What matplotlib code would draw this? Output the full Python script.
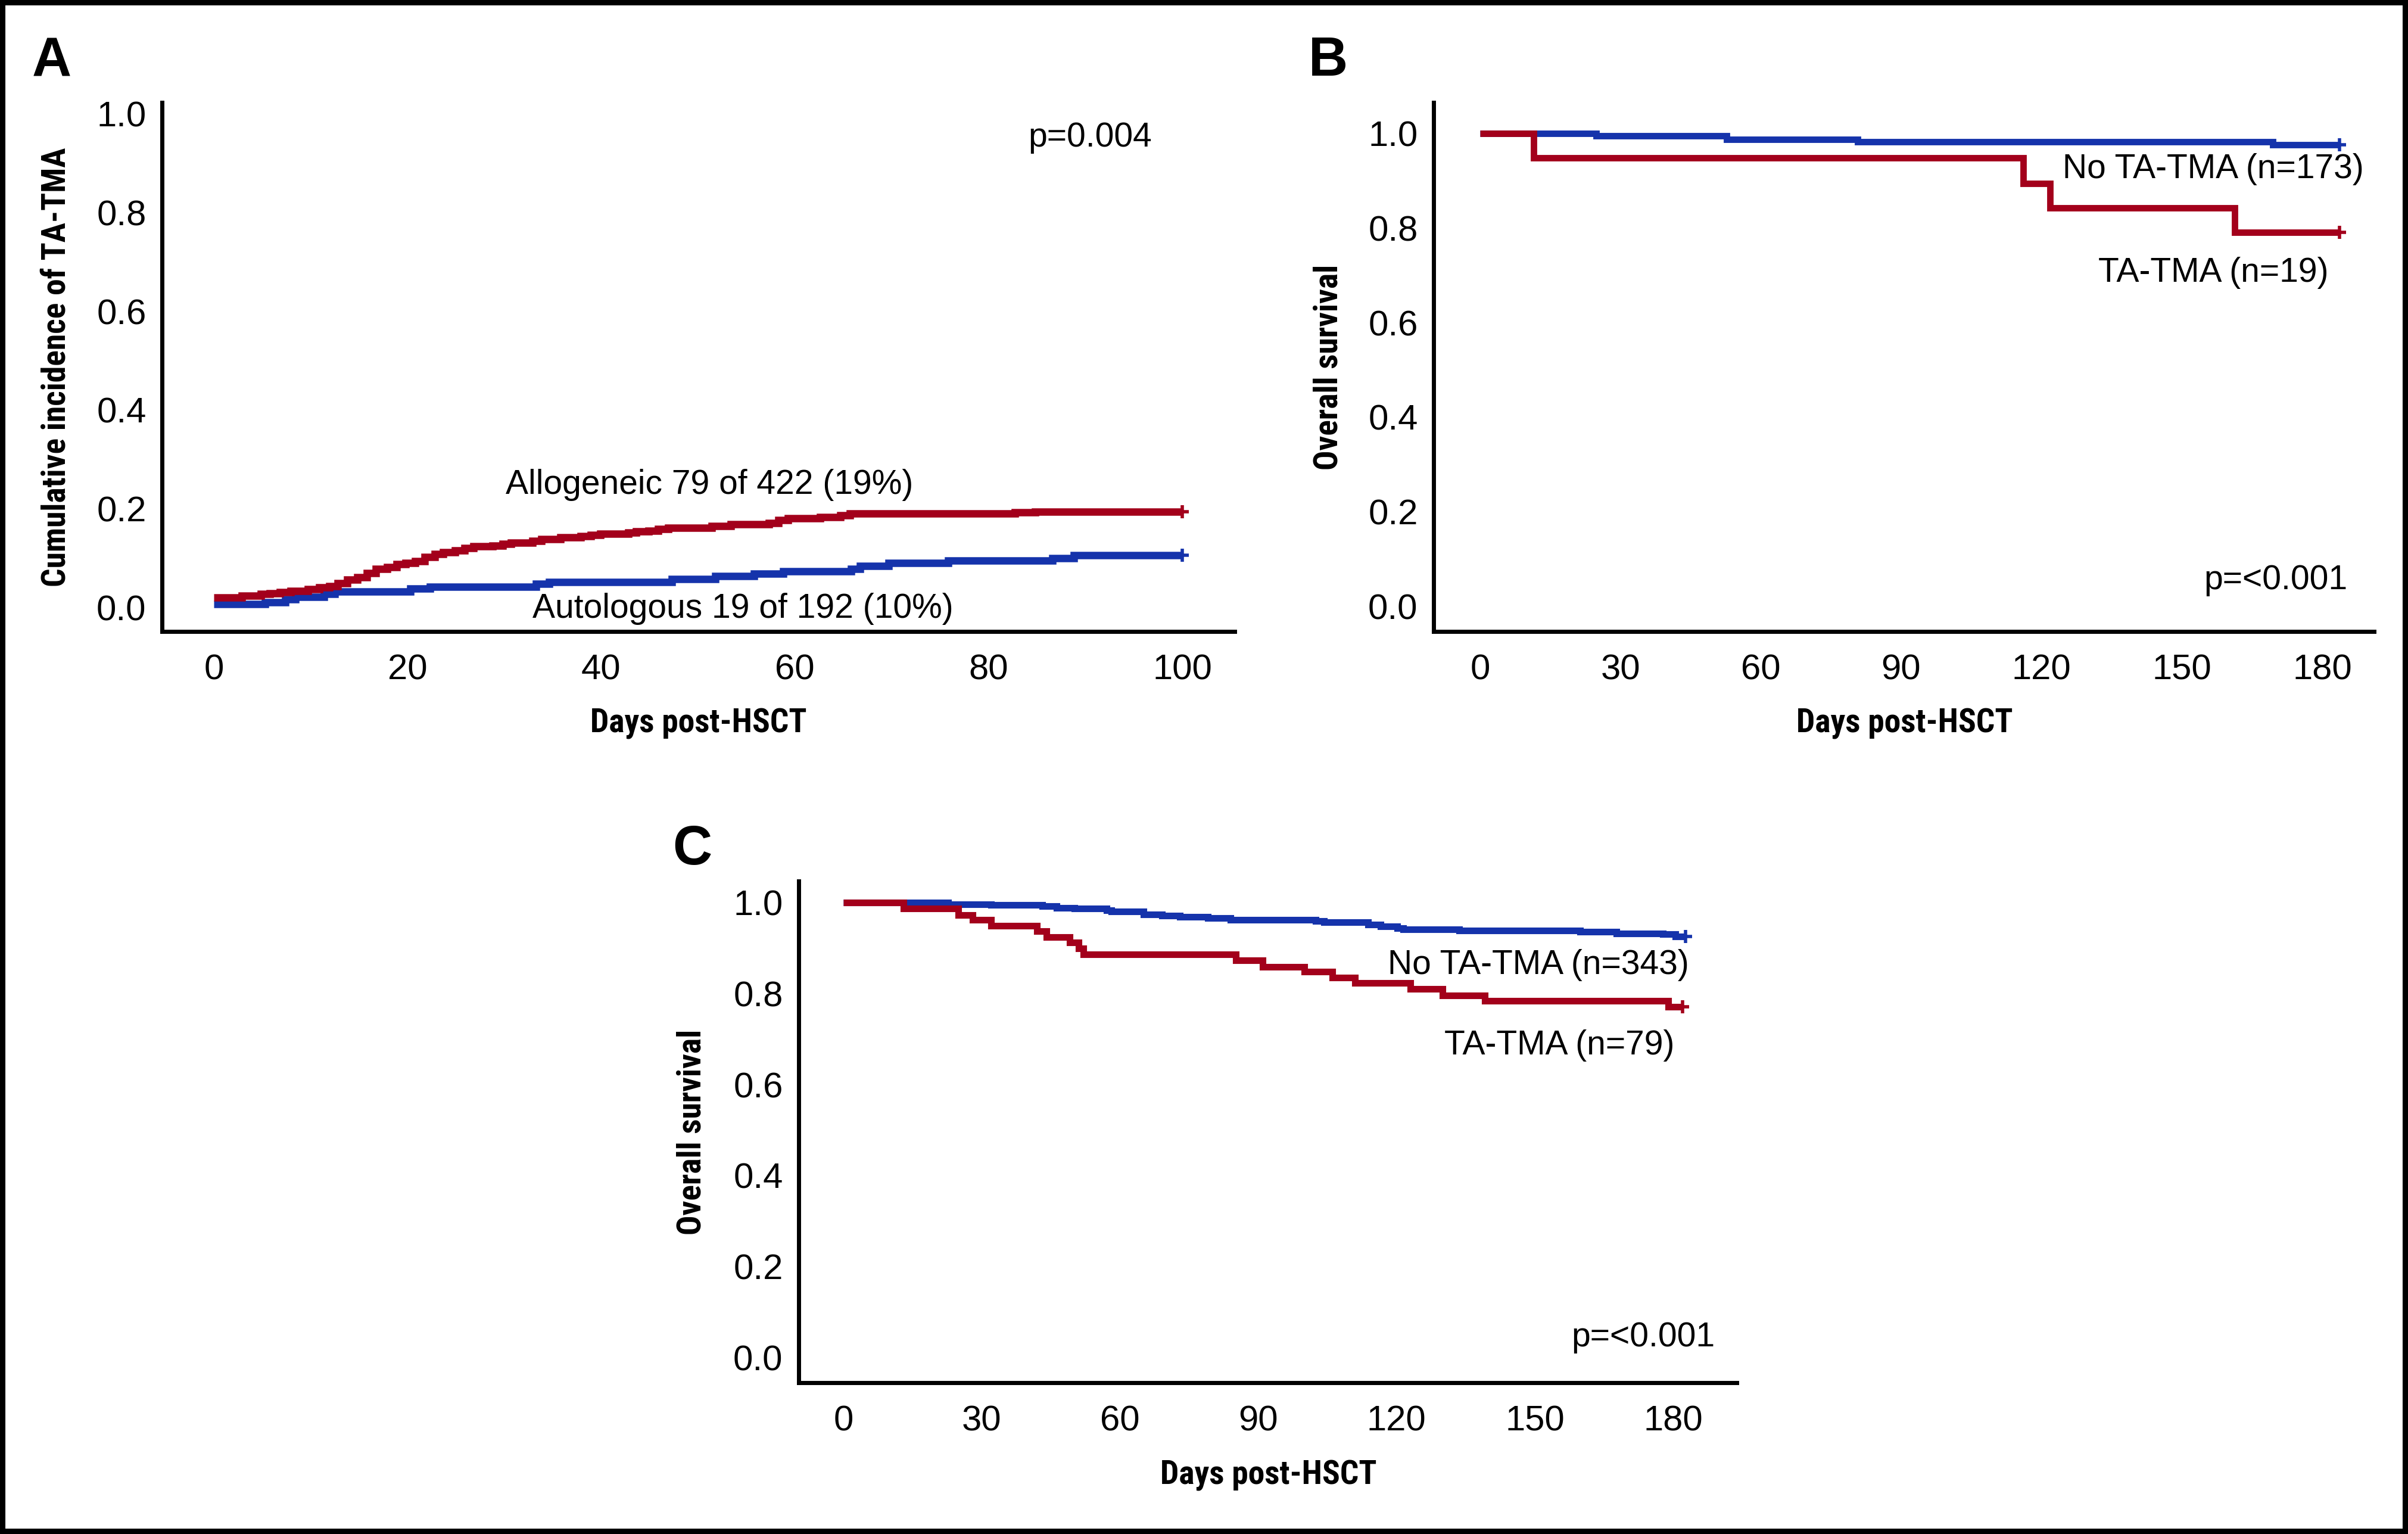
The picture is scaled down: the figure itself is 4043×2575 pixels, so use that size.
import matplotlib
matplotlib.use("Agg")
import matplotlib.pyplot as plt
import matplotlib.font_manager as fm
from matplotlib.patches import Rectangle

# ---------------- data ----------------
# Panel A: cumulative incidence of TA-TMA
allo_days = [0, 2.9, 4.85, 5.8, 6.8, 7.95, 9.7, 10.9, 11.9, 12.8, 13.8, 14.8, 15.8, 16.7,
             17.9, 18.9, 19.8, 20.8, 21.8, 22.8, 23.7, 24.9, 25.9, 26.8, 28.8, 29.8, 30.7,
             32.9, 33.8, 35.8, 37.9, 38.9, 39.9, 42.8, 43.6, 44.9, 45.9, 46.9, 51.4, 53.4,
             57.3, 58.3, 59.3, 62.6, 64.7, 65.7, 82.7, 84.8, 100]
allo_inc = [0.0205, 0.0241, 0.0274, 0.0293, 0.0314, 0.0342, 0.0374, 0.0406, 0.0434, 0.0495,
            0.0563, 0.0615, 0.0703, 0.0784, 0.0816, 0.0876, 0.0905, 0.0945, 0.1025, 0.1086,
            0.1118, 0.1158, 0.1202, 0.1238, 0.1258, 0.1287, 0.1319, 0.1355, 0.1387, 0.1420,
            0.1448, 0.1472, 0.1500, 0.1520, 0.1540, 0.1560, 0.1588, 0.1615, 0.1657, 0.1685,
            0.1710, 0.1773, 0.1805, 0.1837, 0.1873, 0.1906, 0.1926, 0.1946, 0.1946]
auto_days = [0, 5.3, 7.4, 8.4, 11.4, 12.5, 20.3, 22.3, 33.3, 34.6, 47.3, 51.8, 55.8, 58.8,
             65.8, 66.7, 69.7, 75.8, 86.6, 88.8, 100]
auto_inc = [0.0072, 0.0113, 0.0173, 0.0213, 0.0274, 0.0326, 0.0382, 0.0422, 0.0483, 0.0523,
            0.0583, 0.0640, 0.0690, 0.0740, 0.0788, 0.0840, 0.0910, 0.0953, 0.1000, 0.1060,
            0.1060]

# Panel B: overall survival
b_no_days = [0, 24.8, 52.7, 80.7, 169.4, 183.7]
b_no_surv = [1.0, 0.995, 0.988, 0.982, 0.976, 0.976]
b_tma_days = [0, 11.5, 116.1, 121.8, 161.3, 183.7]
b_tma_surv = [1.0, 0.948, 0.894, 0.843, 0.791, 0.791]

# Panel C: overall survival
c_no_days = [0, 22.8, 32.0, 43.1, 46.2, 50.1, 57.1, 58.2, 65.1, 69.1, 73.0, 79.1, 84.0,
             102.5, 104.3, 113.8, 116.5, 120.2, 121.4, 133.6, 159.8, 167.7, 177.8, 180.5, 182.7]
c_no_surv = [1.0, 0.996, 0.994, 0.992, 0.988, 0.987, 0.983, 0.980, 0.974, 0.971, 0.969, 0.966,
             0.962, 0.959, 0.957, 0.952, 0.947, 0.944, 0.941, 0.939, 0.936, 0.932, 0.930,
             0.925, 0.925]
c_tma_days = [0, 13.1, 24.9, 28.1, 32.0, 42.0, 44.1, 49.1, 51.0, 52.1, 85.1, 91.0, 100.0,
              106.1, 111.0, 123.0, 130.0, 139.1, 179.0, 182.1]
c_tma_surv = [1.0, 0.987, 0.973, 0.962, 0.949, 0.937, 0.924, 0.912, 0.899, 0.886, 0.873,
              0.859, 0.848, 0.835, 0.823, 0.810, 0.796, 0.784, 0.771, 0.771]

yticks = [0.0, 0.2, 0.4, 0.6, 0.8, 1.0]
ytick_labels = ["0.0", "0.2", "0.4", "0.6", "0.8", "1.0"]
xticks_a = [0, 20, 40, 60, 80, 100]
xticks_bc = [0, 30, 60, 90, 120, 150, 180]

RED = "#A3001B"
BLUE = "#1533AB"

# ---------------- fonts ----------------
names = {f.name for f in fm.fontManager.ttflist}
main_family = ["Liberation Sans", "DejaVu Sans"] if "Liberation Sans" in names else ["DejaVu Sans"]
label_size = 40
cond_family = None
for cand in ["Liberation Sans Narrow", "Roboto Condensed", "Open Sans Condensed"]:
    if cand in names:
        cond_family = [cand, "DejaVu Sans"]
        break
label_stretch = "normal"
if cond_family is None:
    if any(f.name == "DejaVu Sans" and f.stretch == "condensed" for f in fm.fontManager.ttflist):
        cond_family = ["DejaVu Sans"]
        label_stretch = "condensed"
        label_size = 37
    else:
        cond_family = main_family
        label_size = 33
label_font = dict(family=cond_family, weight="bold", size=label_size, stretch=label_stretch)
tick_size = 43
ann_size = 41

plt.rcParams["font.family"] = main_family

fig = plt.figure(figsize=(40.43, 25.75), dpi=100)

def style_axes(ax, xlim, ylim, xticks):
    ax.set_xlim(*xlim)
    ax.set_ylim(*ylim)
    for s in ["top", "right"]:
        ax.spines[s].set_visible(False)
    for s in ["left", "bottom"]:
        ax.spines[s].set_linewidth(5)
        ax.spines[s].set_color("black")
    ax.set_xticks(xticks)
    ax.set_xticklabels([str(t) for t in xticks])
    ax.set_yticks(yticks)
    ax.set_yticklabels(ytick_labels)
    ax.tick_params(axis="x", length=0, pad=27, labelsize=tick_size)
    ax.tick_params(axis="y", length=0, pad=19, labelsize=tick_size)

def km(ax, x, y, color, lw):
    ax.plot(x, y, drawstyle="steps-post", color=color, lw=lw, solid_joinstyle="miter",
            solid_capstyle="butt")
    ax.plot([x[-1]], [y[-1]], marker="+", color=color, ms=16, mew=4)

# ---- Panel A ----
axA = fig.add_axes([0.06728, 0.58835, 0.44546, 0.34485])
style_axes(axA, (-5.35, 105.41), (-0.0483, 1.0229), xticks_a)
km(axA, auto_days, auto_inc, BLUE, 9)
km(axA, allo_days, allo_inc, RED, 9)
axA.text(90.5, 0.934, "p=0.004", ha="center", va="baseline", fontsize=ann_size)
axA.text(51.2, 0.2304, "Allogeneic 79 of 422 (19%)", ha="center", va="baseline", fontsize=ann_size)
axA.text(54.6, -0.0209, "Autologous 19 of 192 (10%)", ha="center", va="baseline", fontsize=ann_size)
axA.set_xlabel("Days post-HSCT", va="center", **label_font)
axA.xaxis.set_label_coords(0.5, -0.1745)
axA.set_ylabel("Cumulative incidence of TA-TMA", va="center", **label_font)
axA.yaxis.set_label_coords(-0.0988, 0.5)

# ---- Panel B ----
axB = fig.add_axes([0.59535, 0.58835, 0.39055, 0.34485])
style_axes(axB, (-9.93, 191.07), (-0.0529, 1.0655), xticks_bc)
km(axB, b_no_days, b_no_surv, BLUE, 7.8)
km(axB, b_tma_days, b_tma_surv, RED, 7.8)
axB.text(156.7, 0.906, "No TA-TMA (n=173)", ha="center", va="baseline", fontsize=ann_size)
axB.text(156.7, 0.687, "TA-TMA (n=19)", ha="center", va="baseline", fontsize=ann_size)
axB.text(170.1, 0.0365, "p=<0.001", ha="center", va="baseline", fontsize=ann_size)
axB.set_xlabel("Days post-HSCT", va="center", **label_font)
axB.xaxis.set_label_coords(0.501, -0.1745)
axB.set_ylabel("Overall survival", va="center", **label_font)
axB.yaxis.set_label_coords(-0.112, 0.5)

# ---- Panel C ----
axC = fig.add_axes([0.33168, 0.09864, 0.38956, 0.32699])
style_axes(axC, (-9.69, 193.8), (-0.055, 1.047), xticks_bc)
km(axC, c_no_days, c_no_surv, BLUE, 8)
km(axC, c_tma_days, c_tma_surv, RED, 8)
axC.text(150.7, 0.843, "No TA-TMA (n=343)", ha="center", va="baseline", fontsize=ann_size)
axC.text(155.3, 0.666, "TA-TMA (n=79)", ha="center", va="baseline", fontsize=ann_size)
axC.text(173.5, 0.0249, "p=<0.001", ha="center", va="baseline", fontsize=ann_size)
axC.set_xlabel("Days post-HSCT", va="center", **label_font)
axC.xaxis.set_label_coords(0.501, -0.185)
axC.set_ylabel("Overall survival", va="center", **label_font)
axC.yaxis.set_label_coords(-0.114, 0.499)

# ---- panel letters ----
letter_kw = dict(fontsize=66, fontweight="bold", ha="left", va="baseline")
fig.text(0.01336, 0.9505, "A", **letter_kw)
fig.text(0.5434, 0.9505, "B", **letter_kw)
fig.text(0.27925, 0.4365, "C", **letter_kw)

# ---- figure frame ----
fig.add_artist(Rectangle((0, 0), 1, 1, transform=fig.transFigure, fill=False,
                         edgecolor="black", linewidth=13))

fig.savefig("out.png", dpi=100)
